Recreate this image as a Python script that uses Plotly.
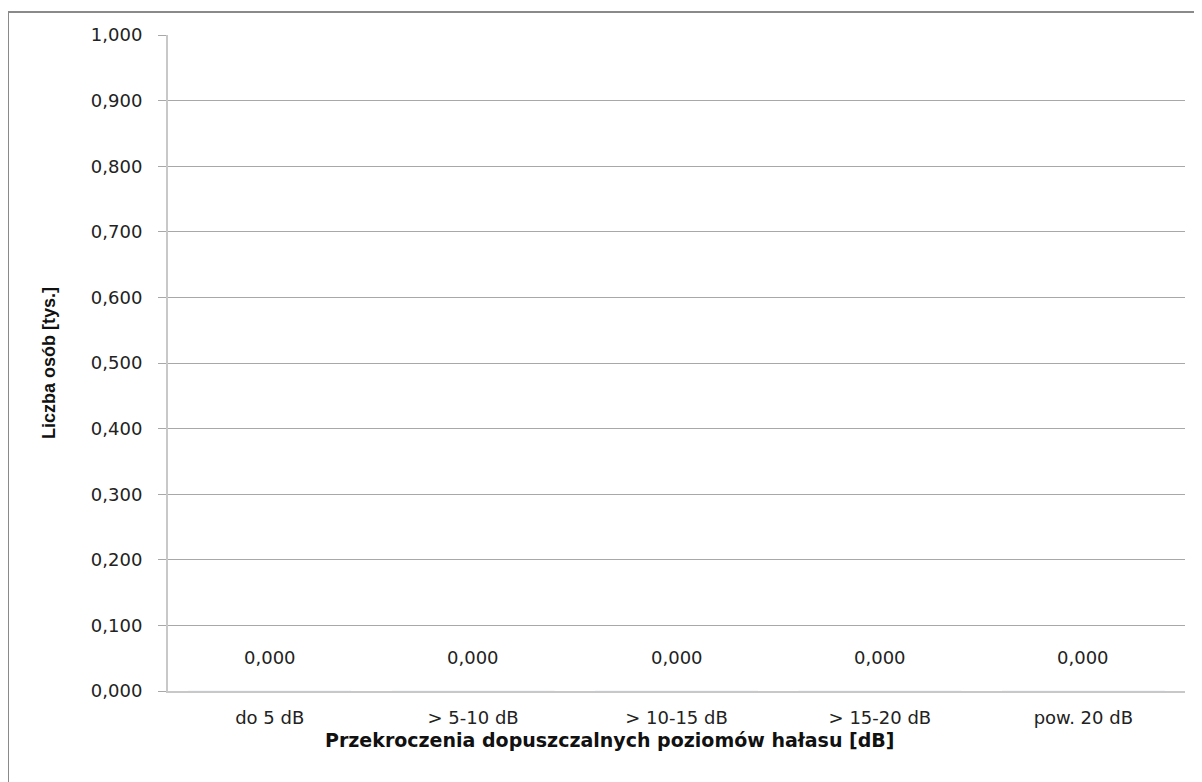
import plotly.graph_objects as go

categories = ["do 5 dB", "> 5-10 dB", "> 10-15 dB", "> 15-20 dB", "pow. 20 dB"]
values = [0.0, 0.0, 0.0, 0.0, 0.0]
y_tickvals = [0.0, 0.1, 0.2, 0.3, 0.4, 0.5, 0.6, 0.7, 0.8, 0.9, 1.0]
y_ticktext = ["0,000", "0,100", "0,200", "0,300", "0,400", "0,500",
              "0,600", "0,700", "0,800", "0,900", "1,000"]
label_texts = ["0,000", "0,000", "0,000", "0,000", "0,000"]
x_title = "Przekroczenia dopuszczalnych poziomów hałasu [dB]"
y_title = "Liczba osób [tys.]"

# page body has an 8px offset in the screenshot
OFF = 8
W, H = 1202, 782
L = 168 - OFF
T = 35 - OFF
R = W - (1185 - OFF)
B = H - (691.5 - OFF)
pw, ph = W - L - R, H - T - B

fig = go.Figure()
fig.add_trace(go.Bar(x=categories, y=values, marker_color="#4f81bd",
                     showlegend=False, hoverinfo="x+y"))

for c, v, t in zip(categories, values, label_texts):
    fig.add_annotation(x=c, y=v, text=t, showarrow=False, yshift=34,
                       font=dict(family="DejaVu Sans", size=18, color="#222"))

# x-axis title (off-centre as in the original)
fig.add_annotation(xref="paper", yref="paper",
                   x=(610 - 168) / pw, y=-(740.5 - 691.5) / ph,
                   xanchor="center", yanchor="middle", showarrow=False,
                   text="<b>" + x_title + "</b>",
                   font=dict(family="DejaVu Sans", size=19, color="#111"))

# outer chart border (left and top only visible)
bx = (8 - OFF - L) / pw
by = 1 + (T - (12 - OFF)) / ph
fig.add_shape(type="line", xref="paper", yref="paper", x0=bx, x1=1 + R / pw + 0.02,
              y0=by, y1=by, line=dict(color="#8a8a8a", width=2))
fig.add_shape(type="line", xref="paper", yref="paper", x0=bx, x1=bx,
              y0=by, y1=-B / ph - 0.02, line=dict(color="#8a8a8a", width=2))

fig.update_layout(
    width=W, height=H,
    margin=dict(l=L, r=R, t=T, b=B),
    paper_bgcolor="white", plot_bgcolor="white",
    font=dict(family="DejaVu Sans", color="#222"),
    xaxis=dict(
        type="category",
        showline=True, linecolor="#c8c8c8", linewidth=2,
        showgrid=False,
        ticks="outside", ticklen=9, tickcolor="rgba(0,0,0,0)",
        tickfont=dict(family="DejaVu Sans", size=18, color="#222"),
    ),
    yaxis=dict(
        range=[0, 1.0],
        tickvals=y_tickvals, ticktext=y_ticktext,
        showline=True, linecolor="#c8c8c8", linewidth=2,
        showgrid=True, gridcolor="#a8a8a8", gridwidth=1,
        zeroline=False,
        ticks="outside", ticklen=8, tickcolor="#a8a8a8",
        ticklabelstandoff=12,
        tickfont=dict(family="DejaVu Sans", size=18, color="#222"),
        title=dict(text="<b>" + y_title + "</b>",
                   font=dict(family="Liberation Sans", size=18, color="#111"),
                   standoff=31),
    ),
)

fig.write_html("out.html")
